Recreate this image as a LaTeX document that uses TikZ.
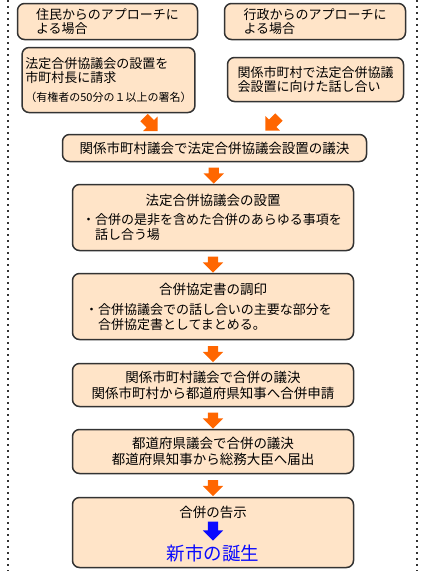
\documentclass[tikz,border=0pt]{standalone}
\usepackage{fontspec}
\setmainfont{Noto Sans CJK JP}
\usepackage{xcolor}
\usepackage{tikz}
\usetikzlibrary{shapes.arrows, calc}
\definecolor{boxfill}{HTML}{FFE4C8}
\definecolor{boxline}{HTML}{333333}
\definecolor{borange}{HTML}{FF6600}
\definecolor{bblue}{HTML}{0A0AFF}
\tikzstyle{stepbox} = [rectangle, draw=boxline, line width=1.5pt, fill=boxfill, rounded corners=7pt, align=center, font=\fontsize{13.5pt}{16pt}\selectfont]
\tikzstyle{topbox} = [stepbox, align=left, font=\fontsize{13pt}{14pt}\selectfont]
\tikzstyle{bodybox} = [stepbox, align=left, font=\fontsize{13pt}{15pt}\selectfont]
\tikzstyle{downarrow} = [single arrow, draw=none, fill=borange, shape border rotate=270, inner sep=5pt, single arrow head extend=5pt, minimum height=16pt, minimum width=20pt]
\tikzstyle{sidearrow} = [single arrow, draw=none, fill=borange, inner sep=5pt, single arrow head extend=5pt, minimum height=19pt, minimum width=20pt]
\tikzstyle{bluearrow} = [downarrow, fill=bblue, minimum height=19pt]
\tikzstyle{dotline} = [line width=2pt, dash pattern=on 2pt off 4pt, black!80]

\begin{document}
\begin{tikzpicture}[x=1pt, y=-1pt]
    
    \useasboundingbox (0, 0) rectangle (423, 571);
    \draw[dotline] (8, 0) -- (8, 571);
    \draw[dotline] (417, 0) -- (417, 571);
    
    \node[topbox, minimum width=180pt, minimum height=36pt] at (107.5, 21.5) (residents) {住民からのアプローチに\\よる場合};
    \node[topbox, minimum width=181pt, minimum height=36pt] at (315, 21.5) (admin) {行政からのアプローチに\\よる場合};
    
    \node[topbox, minimum width=170pt, minimum height=65pt] at (108.5, 80) (petition) {法定合併協議会の設置を\\市町村長に請求\\[5pt]{\fontsize{11pt}{13pt}\selectfont （有権者の50分の１以上の署名）}};
    \node[topbox, minimum width=176pt, minimum height=44pt] at (315.5, 79.5) (talks) {関係市町村で法定合併協議\\会設置に向けた話し合い};
    
    \node[sidearrow, rotate=-45] at (149, 122.5) (leftin) {};
    \node[sidearrow, rotate=-135] at (274, 122) (rightin) {};
    
    \node[stepbox, minimum width=304pt, minimum height=27pt] at (214.5, 148) (setupvote) {関係市町村議会で法定合併協議会設置の議決};
    
    \node[bodybox, text width=262pt, minimum width=281pt, minimum height=66pt] at (213, 217.5) (council) {\makebox[262pt]{\fontsize{13.5pt}{15pt}\selectfont 法定合併協議会の設置}\\[4pt]・合併の是非を含めた合併のあらゆる事項を\\\phantom{・}話し合う場};
    \path (setupvote.south) -- (council.north) node[downarrow, midway] (arr1) {};
    
    \node[bodybox, text width=256pt, minimum width=281pt, minimum height=66pt] at (213, 306.5) (agreement) {\makebox[256pt]{\fontsize{13.5pt}{15pt}\selectfont 合併協定書の調印}\\[5pt]・合併協議会での話し合いの主要な部分を\\\phantom{・}合併協定書としてまとめる。};
    \path (council.south) -- (agreement.north) node[downarrow, midway] (arr2) {};
    
    \node[stepbox, minimum width=281pt, minimum height=43pt] at (213, 385) (localvote) {関係市町村議会で合併の議決\\関係市町村から都道府県知事へ合併申請};
    \path (agreement.south) -- (localvote.north) node[downarrow, midway] (arr3) {};
    
    \node[stepbox, minimum width=281pt, minimum height=44pt] at (213, 451.5) (prefvote) {都道府県議会で合併の議決\\都道府県知事から総務大臣へ届出};
    \path (localvote.south) -- (prefvote.north) node[downarrow, midway] (arr4) {};
    
    \node[stepbox, minimum width=281pt, minimum height=70pt] at (213, 532.5) (final) {};
    \path (prefvote.south) -- (final.north) node[downarrow, midway] (arr5) {};
    \node[font=\fontsize{13.5pt}{15pt}\selectfont] at (213, 512) (notice) {合併の告示};
    \node[font=\fontsize{18.5pt}{20pt}\selectfont, text=bblue] at (213, 553) (birth) {新市の誕生};
    \node[bluearrow] at (213, 528.5) (birtharrow) {};
    
\end{tikzpicture}
\end{document}
